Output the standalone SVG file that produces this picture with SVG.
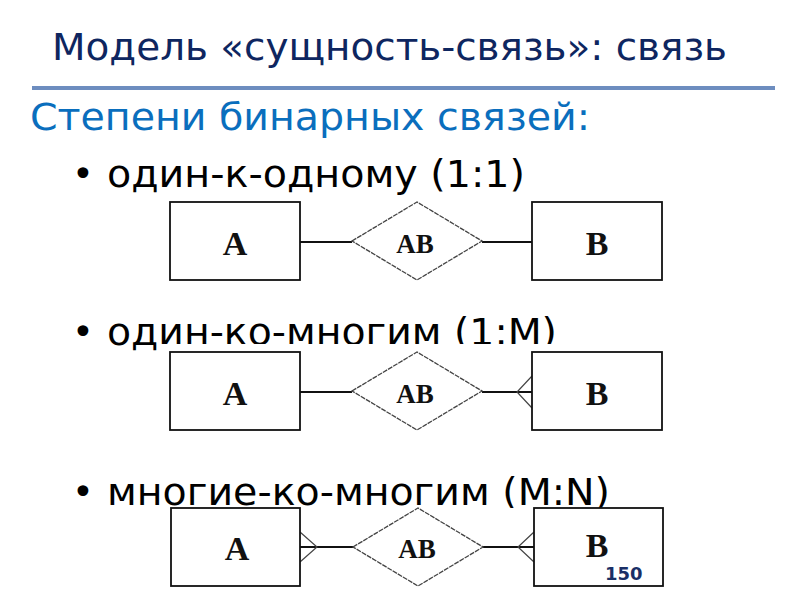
<svg xmlns="http://www.w3.org/2000/svg" width="800" height="600" viewBox="0 0 800 600">
<style>
.title{font-family:"DejaVu Sans",sans-serif;font-size:37px;fill:#0e2660}
.sub{font-family:"DejaVu Sans",sans-serif;font-size:37px;fill:#0a6ebd}
.bul{font-family:"DejaVu Sans",sans-serif;font-size:37px;fill:#000}
.box{fill:#fff;stroke:#111;stroke-width:1.8}
.dia{fill:#fff;stroke:#444;stroke-width:1.3;stroke-dasharray:5 1}
.ln{stroke:#111;stroke-width:1.8;fill:none}
.crow{stroke:#444;stroke-width:1.2;fill:none}
.lbl{font-family:"Liberation Serif",serif;font-weight:bold;font-size:34px;fill:#111;text-anchor:middle}
.lblab{font-family:"Liberation Serif",serif;font-weight:bold;font-size:27px;fill:#111;text-anchor:middle}
</style>
<rect width="800" height="600" fill="#fff"/>
<text class="title" x="52" y="60" textLength="675" lengthAdjust="spacingAndGlyphs">Модель «сущность-связь»: связь</text>
<rect x="32" y="86" width="743" height="4" fill="#6d8dbf"/>
<text class="sub" x="30" y="130" textLength="560" lengthAdjust="spacingAndGlyphs">Степени бинарных связей:</text>
<text class="bul" x="72" y="187">•</text>
<text class="bul" x="107" y="187" textLength="418" lengthAdjust="spacingAndGlyphs">один-к-одному (1:1)</text>
<text class="bul" x="72" y="345">•</text>
<text class="bul" x="107" y="345" textLength="450" lengthAdjust="spacingAndGlyphs">один-ко-многим (1:М)</text>
<text class="bul" x="72" y="505">•</text>
<text class="bul" x="107" y="505" textLength="503" lengthAdjust="spacingAndGlyphs">многие-ко-многим (M:N)</text>

<rect x="160" y="344" width="512" height="92" fill="#fff"/>
<rect x="160" y="508" width="512" height="86" fill="#fff"/>

<g id="connectors">
<line class="ln" x1="300" y1="242" x2="352" y2="242"/>
<line class="ln" x1="482" y1="242" x2="532" y2="242"/>
<line class="ln" x1="300" y1="392" x2="352" y2="392"/>
<line class="ln" x1="482" y1="392" x2="532" y2="392"/>
<polyline class="crow" points="532,376 517,392 532,408"/>
<line class="ln" x1="300" y1="547" x2="353" y2="547"/>
<line class="ln" x1="483" y1="547" x2="534" y2="547"/>
<polyline class="crow" points="300,532 317,547 300,562"/>
<polyline class="crow" points="534,532 518,547 534,562"/>
</g>

<g id="A1"><rect class="box" x="170" y="202" width="130" height="78"/><text class="lbl" x="235" y="255">A</text></g>
<g id="AB1"><polygon class="dia" points="352,241 417,202 482,241 417,280"/><text class="lblab" x="415" y="253">AB</text></g>
<g id="B1"><rect class="box" x="532" y="202" width="130" height="78"/><text class="lbl" x="597" y="255">B</text></g>

<g id="A2"><rect class="box" x="170" y="352" width="130" height="78"/><text class="lbl" x="235" y="405">A</text></g>
<g id="AB2"><polygon class="dia" points="352,391 417,352 482,391 417,430"/><text class="lblab" x="415" y="403">AB</text></g>
<g id="B2"><rect class="box" x="532" y="352" width="130" height="78"/><text class="lbl" x="597" y="405">B</text></g>

<g id="A3"><rect class="box" x="171" y="508" width="129" height="78"/><text class="lbl" x="237" y="560">A</text></g>
<g id="AB3"><polygon class="dia" points="353,547 418,508 483,547 418,586"/><text class="lblab" x="417" y="558">AB</text></g>
<g id="B3"><rect class="box" x="534" y="508" width="129" height="78"/><text class="lbl" x="597" y="557">B</text></g>

<text x="605" y="580" font-family="DejaVu Sans,sans-serif" font-weight="bold" font-size="18" fill="#1a2f66">150</text>
</svg>
